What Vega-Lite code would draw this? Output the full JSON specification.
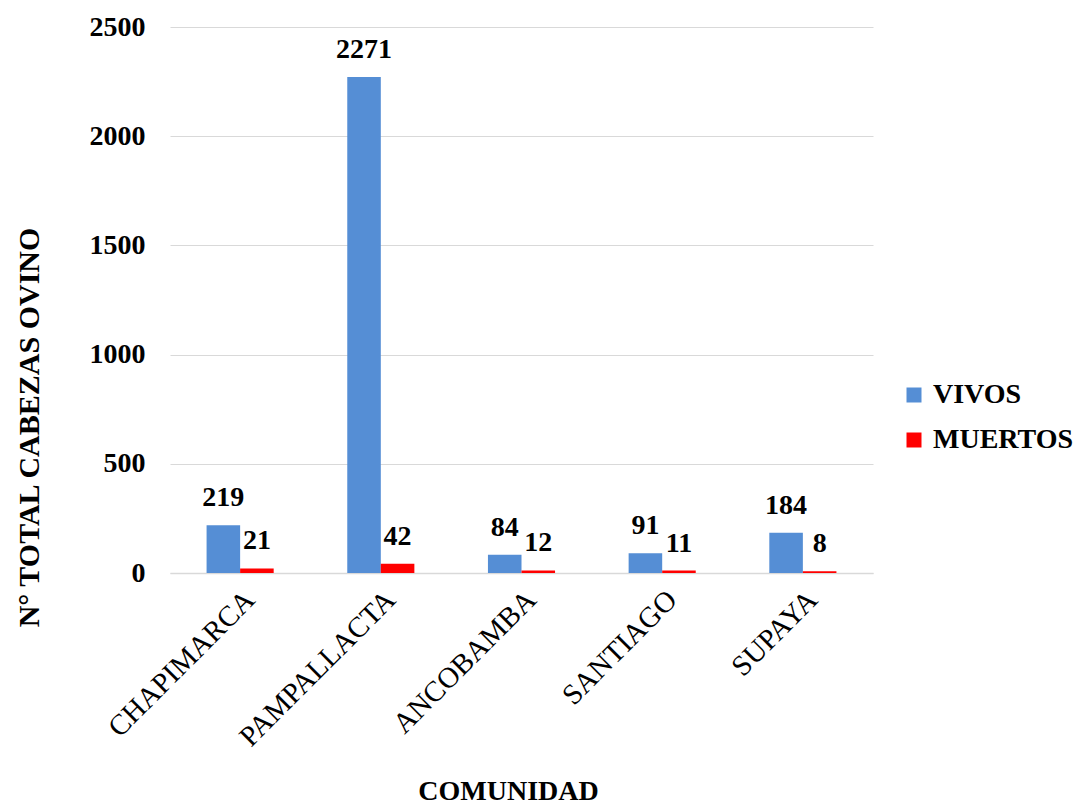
{
  "$schema": "https://vega.github.io/schema/vega-lite/v6.json",
  "autosize": "none",
  "width": 703,
  "height": 546,
  "padding": {"left": 170, "top": 27, "right": 206, "bottom": 232},
  "background": "white",
  "config": {
    "font": "Liberation Serif",
    "view": {"stroke": null}
  },
  "data": {
    "values": [
      {"comunidad": "CHAPIMARCA", "serie": "VIVOS", "valor": 219},
      {"comunidad": "CHAPIMARCA", "serie": "MUERTOS", "valor": 21},
      {"comunidad": "PAMPALLACTA", "serie": "VIVOS", "valor": 2271},
      {"comunidad": "PAMPALLACTA", "serie": "MUERTOS", "valor": 42},
      {"comunidad": "ANCOBAMBA", "serie": "VIVOS", "valor": 84},
      {"comunidad": "ANCOBAMBA", "serie": "MUERTOS", "valor": 12},
      {"comunidad": "SANTIAGO", "serie": "VIVOS", "valor": 91},
      {"comunidad": "SANTIAGO", "serie": "MUERTOS", "valor": 11},
      {"comunidad": "SUPAYA", "serie": "VIVOS", "valor": 184},
      {"comunidad": "SUPAYA", "serie": "MUERTOS", "valor": 8}
    ]
  },
  "encoding": {
    "x": {
      "field": "comunidad",
      "type": "nominal",
      "sort": ["CHAPIMARCA", "PAMPALLACTA", "ANCOBAMBA", "SANTIAGO", "SUPAYA"],
      "scale": {"paddingInner": 0.523, "paddingOuter": 0.26},
      "axis": {
        "title": "COMUNIDAD",
        "titleFont": "Liberation Serif",
        "titleFontSize": 28,
        "titleFontWeight": "bold",
        "titleColor": "black",
        "titleBaseline": "alphabetic",
        "titleY": 226,
        "titleX": 338,
        "labelAngle": -45,
        "labelFont": "Liberation Serif",
        "labelFontSize": 29,
        "labelFontWeight": "normal",
        "labelColor": "black",
        "labelPadding": 12,
        "labelDx": -6,
        "labelLimit": 0,
        "ticks": false,
        "domain": true,
        "domainColor": "#d9d9d9",
        "domainWidth": 1.5
      }
    },
    "xOffset": {"field": "serie", "type": "nominal", "sort": ["VIVOS", "MUERTOS"], "scale": {"paddingInner": 0, "paddingOuter": 0}},
    "y": {
      "field": "valor",
      "type": "quantitative",
      "scale": {"domain": [0, 2500], "nice": false},
      "axis": {
        "title": "N° TOTAL  CABEZAS OVINO",
        "titleFont": "Liberation Serif",
        "titleFontSize": 30,
        "titleFontWeight": "bold",
        "titleColor": "black",
        "titleX": -141,
        "titleY": 400,
        "titleAngle": -90,
        "titleAlign": "center",
        "titleBaseline": "middle",
        "titleLimit": 0,
        "values": [0, 500, 1000, 1500, 2000, 2500],
        "format": "d",
        "labelFont": "Liberation Serif",
        "labelFontSize": 28,
        "labelFontWeight": "bold",
        "labelColor": "black",
        "labelPadding": 25,
        "ticks": false,
        "domain": false,
        "grid": true,
        "gridColor": "#d9d9d9",
        "gridWidth": 1
      }
    }
  },
  "layer": [
    {
      "mark": {"type": "bar"},
      "encoding": {
        "color": {
          "field": "serie",
          "type": "nominal",
          "sort": ["VIVOS", "MUERTOS"],
          "scale": {"domain": ["VIVOS", "MUERTOS"], "range": ["#558ED5", "#FF0000"]},
          "legend": {
            "title": null,
            "orient": "none",
            "legendX": 730,
            "legendY": 354,
            "symbolType": "square",
            "symbolSize": 225,
            "symbolStrokeWidth": 0,
            "labelFontSize": 28,
            "labelFontWeight": "bold",
            "labelColor": "black",
            "labelFont": "Liberation Serif",
            "labelOffset": 5,
            "labelLimit": 0,
            "rowPadding": 17
          }
        }
      }
    },
    {
      "mark": {"type": "text", "baseline": "alphabetic", "dy": -19, "fontSize": 28, "fontWeight": "bold", "color": "black", "font": "Liberation Serif"},
      "encoding": {
        "text": {"field": "valor", "type": "quantitative"}
      }
    }
  ]
}
